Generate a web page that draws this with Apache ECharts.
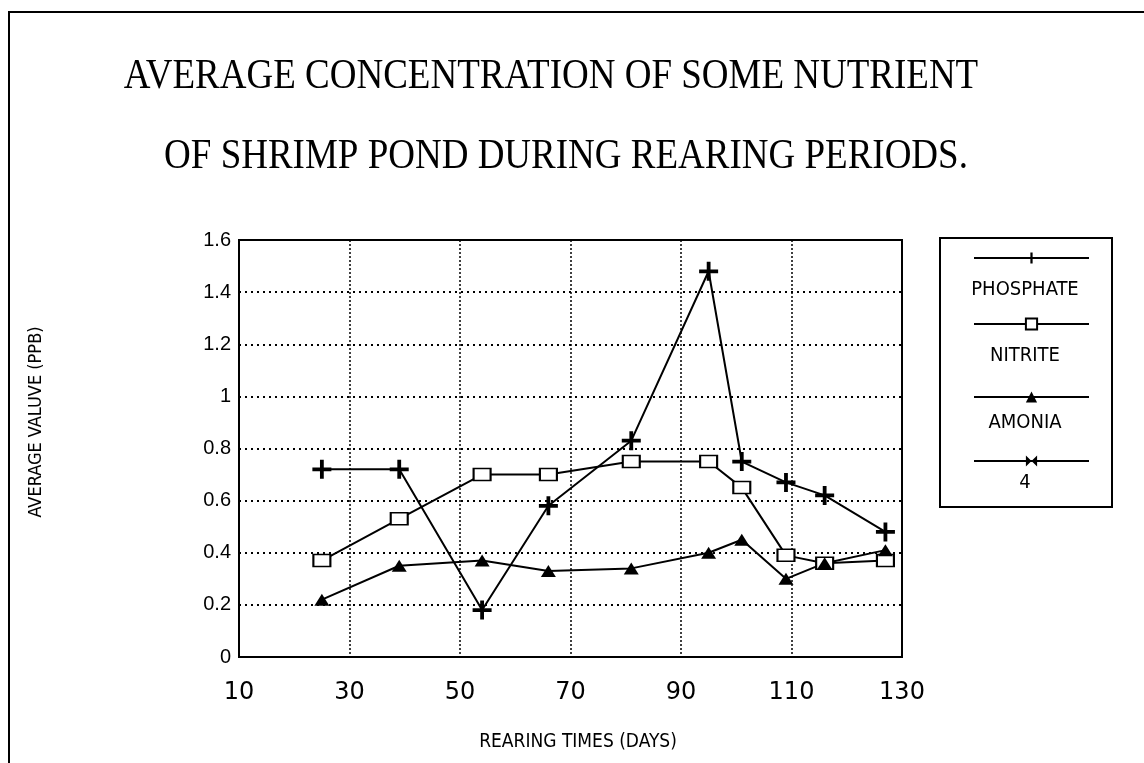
<!DOCTYPE html>
<html>
<head>
<meta charset="utf-8">
<title>Shrimp pond nutrients</title>
<script src="https://cdn.jsdelivr.net/npm/echarts@6/dist/echarts.min.js"></script>
<style>
  html, body { margin: 0; padding: 0; background: #fff; }
  #chart { width: 1144px; height: 763px; }
</style>
</head>
<body>
<div id="chart"></div>
<script>
// rearing time (days) of each sampling
var days = [25, 39, 54, 66, 81, 95, 101, 109, 116, 127];
// average values (ppb)
var phosphate = [0.72, 0.72, 0.18, 0.58, 0.83, 1.48, 0.75, 0.67, 0.62, 0.48];
var nitrite = [0.37, 0.53, 0.70, 0.70, 0.75, 0.75, 0.65, 0.39, 0.36, 0.37];
var amonia = [0.22, 0.35, 0.37, 0.33, 0.34, 0.40, 0.45, 0.30, 0.36, 0.41];
var seriesNames = ['PHOSPHATE', 'NITRITE', 'AMONIA', '4'];

function pairs(ys) {
  return ys.map(function (v, i) { return [days[i], v]; });
}

var plusPath = 'path://M8,0H12V8H20V12H12V20H8V12H0V8H8Z';
var bowPath = 'path://M0,0L10,6L0,12Z M20,0L10,6L20,12Z';

var narrow = "'Liberation Sans Narrow', 'DejaVu Sans Condensed', 'Liberation Sans', sans-serif";

var chart = echarts.init(document.getElementById('chart'));

// one legend per series so the sample line sits above its name, like the original
var legendRows = [246, 312, 385, 449];
var legends = seriesNames.map(function (n, i) {
  return {
    data: [n],
    left: 968,
    top: legendRows[i],
    itemWidth: 115,
    itemHeight: 14,
    selectedMode: false,
    formatter: function () { return ''; },
    textStyle: { fontSize: 1 }
  };
});

function lineSeries(name, data, symbol, size, fill) {
  return {
    name: name,
    type: 'line',
    data: data,
    symbol: symbol,
    symbolSize: size,
    showAllSymbol: true,
    z: 5,
    lineStyle: { color: '#000', width: 2 },
    itemStyle: { color: fill, borderColor: '#000', borderWidth: fill === '#fff' ? 1.8 : 0 }
  };
}

var legendFont = '20px ' + narrow;

chart.setOption({
  animation: false,
  backgroundColor: '#fff',
  legend: legends,
  grid: {
    left: 239, top: 240, right: 242, bottom: 106,
    show: true, borderColor: '#000', borderWidth: 2, backgroundColor: 'transparent'
  },
  xAxis: {
    type: 'value',
    min: 10, max: 130, interval: 20,
    axisLine: { show: false },
    axisTick: { show: false },
    axisLabel: {
      margin: 24, color: '#000', fontSize: 24,
      fontFamily: "'DejaVu Sans', sans-serif"
    },
    splitLine: { show: true, lineStyle: { color: '#000', type: [2, 2], width: 1.5 } }
  },
  yAxis: {
    type: 'value',
    min: 0, max: 1.6, interval: 0.2,
    axisLine: { show: false },
    axisTick: { show: false },
    axisLabel: {
      margin: 8, color: '#000', fontSize: 20,
      fontFamily: "'Liberation Sans', Arial, sans-serif"
    },
    splitLine: { show: true, lineStyle: { color: '#000', type: [2, 4], width: 2 } }
  },
  series: [
    lineSeries('PHOSPHATE', pairs(phosphate), plusPath, 19, '#000'),
    lineSeries('NITRITE', pairs(nitrite), 'rect', [17, 12], '#fff'),
    lineSeries('AMONIA', pairs(amonia), 'triangle', [15, 12], '#000'),
    lineSeries('4', [], bowPath, [18, 11], '#000')
  ],
  graphic: [
    // page frame
    { type: 'polyline', shape: { points: [[9, 770], [9, 12], [1150, 12]] },
      style: { stroke: '#000', lineWidth: 2, fill: null } },
    // title
    { type: 'text', x: 551, y: 77, scaleY: 1.15,
      style: { text: 'AVERAGE CONCENTRATION OF SOME NUTRIENT', fill: '#000',
        font: "37px 'Liberation Serif', 'DejaVu Serif', serif",
        textAlign: 'center', textVerticalAlign: 'middle' } },
    { type: 'text', x: 566, y: 157, scaleY: 1.15,
      style: { text: 'OF SHRIMP POND DURING REARING PERIODS.', fill: '#000',
        font: "37px 'Liberation Serif', 'DejaVu Serif', serif",
        textAlign: 'center', textVerticalAlign: 'middle' } },
    // axis names
    { type: 'text', x: 36, y: 422, rotation: Math.PI / 2,
      style: { text: 'AVERAGE VALUVE (PPB)', fill: '#000', font: '18px ' + narrow,
        textAlign: 'center', textVerticalAlign: 'middle' } },
    { type: 'text', x: 578, y: 742,
      style: { text: 'REARING TIMES (DAYS)', fill: '#000', font: '19px ' + narrow,
        textAlign: 'center', textVerticalAlign: 'middle' } },
    // legend box and names
    { type: 'rect', shape: { x: 940, y: 238, width: 172, height: 269 },
      style: { stroke: '#000', lineWidth: 2, fill: null } },
    { type: 'text', x: 1025, y: 290,
      style: { text: 'PHOSPHATE', fill: '#000', font: legendFont, textAlign: 'center', textVerticalAlign: 'middle' } },
    { type: 'text', x: 1025, y: 356,
      style: { text: 'NITRITE', fill: '#000', font: legendFont, textAlign: 'center', textVerticalAlign: 'middle' } },
    { type: 'text', x: 1025, y: 423,
      style: { text: 'AMONIA', fill: '#000', font: legendFont, textAlign: 'center', textVerticalAlign: 'middle' } },
    { type: 'text', x: 1025, y: 483,
      style: { text: '4', fill: '#000', font: legendFont, textAlign: 'center', textVerticalAlign: 'middle' } }
  ]
});
</script>
</body>
</html>
